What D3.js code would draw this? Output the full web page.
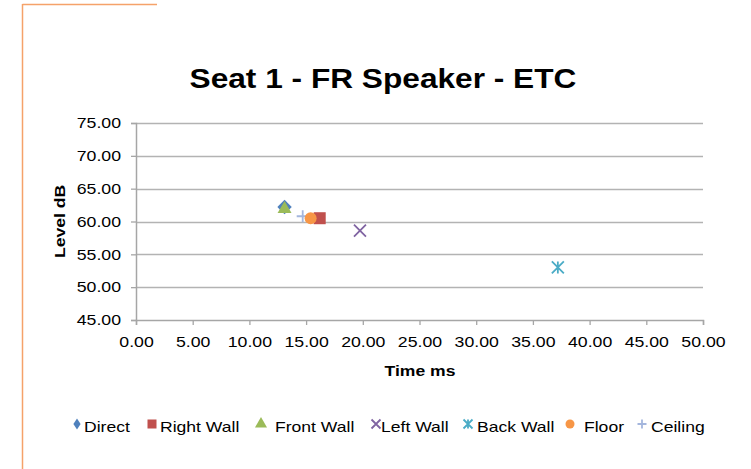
<!DOCTYPE html>
<html><head><meta charset="utf-8">
<script src="https://cdn.jsdelivr.net/npm/d3@7"></script>
<style>body{margin:0;background:#fff}svg{display:block}text{font-family:"Liberation Sans",Arial,sans-serif}</style>
</head><body>
<script>
const seriesNames = ["Direct","Right Wall","Front Wall","Left Wall","Back Wall","Floor","Ceiling"];
const timeMs = [13.1, 16.2, 13.1, 19.75, 37.2, 15.4, 14.7];
const levelDb = [62.2, 60.5, 61.9, 58.6, 53.0, 60.5, 60.8];
const colors = ["#4F81BD","#C0504D","#9BBB59","#8064A2","#4BACC6","#F79646","#A4B6DD"];
const symbols = ["diamond","square","triangle","x","star","circle","plus"];
const xTicks = [0,5,10,15,20,25,30,35,40,45,50];
const yTicks = [45,50,55,60,65,70,75];
const legendMarkX = [77,152,261,376,468,570,642];
const legendTextX = [84,160,275,381,477,584,651];

const W=751,H=469;
const svg=d3.select("body").append("svg").attr("width",W).attr("height",H);
svg.append("line").attr("x1",22.5).attr("x2",157).attr("y1",4.5).attr("y2",4.5).attr("stroke","#F5A26A").attr("stroke-width",1.5);
svg.append("line").attr("x1",22.5).attr("x2",22.5).attr("y1",4).attr("y2",469).attr("stroke","#F5A26A").attr("stroke-width",1.5);

const x=d3.scaleLinear().domain([0,50]).range([136,703]);
const y=d3.scaleLinear().domain([45,75]).range([320,123]);

function stretch(sel,f){sel.each(function(){const n=this.getComputedTextLength();d3.select(this).attr("textLength",n*f).attr("lengthAdjust","spacingAndGlyphs");});}

svg.append("g").selectAll("line").data(yTicks.filter(d=>d>45)).join("line")
 .attr("x1",x(0)).attr("x2",x(50)).attr("y1",d=>Math.round(y(d))+0.5).attr("y2",d=>Math.round(y(d))+0.5)
 .attr("stroke","#B3B3B3").attr("stroke-width",1.4);

const ya=svg.append("g").attr("transform",`translate(${x(0)},0)`)
 .call(d3.axisLeft(y).tickValues(yTicks).tickFormat(d3.format(".2f")).tickSize(5).tickPadding(10));
const xa=svg.append("g").attr("transform",`translate(0,${y(45)})`)
 .call(d3.axisBottom(x).tickValues(xTicks).tickFormat(d3.format(".2f")).tickSize(5).tickPadding(11));
[ya,xa].forEach(a=>{a.select(".domain").attr("stroke","#A6A6A6").attr("stroke-width",1.5);
 a.selectAll(".tick line").attr("stroke","#A6A6A6").attr("stroke-width",1.3);
 a.selectAll("text").attr("font-size",15).attr("fill","#000").attr("font-family","Liberation Sans, Arial");
 stretch(a.selectAll("text"),1.18);});

const title=svg.append("text").attr("x",383).attr("y",88).attr("text-anchor","middle").attr("font-size",28).attr("font-weight","bold").text("Seat 1 - FR Speaker - ETC");
stretch(title,1.13);
const yl=svg.append("text").attr("transform",`translate(65,${(y(45)+y(75))/2}) rotate(-90)`).attr("text-anchor","middle").attr("font-size",15).attr("font-weight","bold").text("Level dB");
stretch(yl,1.17);
const xl=svg.append("text").attr("x",420).attr("y",376).attr("text-anchor","middle").attr("font-size",15).attr("font-weight","bold").text("Time ms");
stretch(xl,1.17);

function marker(g,sym,c,s,legend){
 if(sym==="diamond"){const w=legend?s*0.4:s*0.6,h=legend?s*0.6:s*0.6;g.append("path").attr("d",`M0,${-h}L${w},0L0,${h}L${-w},0Z`).attr("fill",c);}
 else if(sym==="square") g.append("rect").attr("x",-s/2).attr("y",-s/2).attr("width",s).attr("height",s).attr("fill",c);
 else if(sym==="triangle") g.append("path").attr("d",d3.symbol(d3.symbolTriangle,s*7)()).attr("fill",c);
 else if(sym==="circle") g.append("circle").attr("r",s/2).attr("fill",c);
 else if(sym==="x"){const r=s/2;g.append("path").attr("d",`M${-r},${-r}L${r},${r}M${-r},${r}L${r},${-r}`).attr("stroke",c).attr("stroke-width",1.8);}
 else if(sym==="plus"){const r=s/2;g.append("path").attr("d",`M${-r},0L${r},0M0,${-r}L0,${r}`).attr("stroke",c).attr("stroke-width",1.8);}
 else if(sym==="star"){const r=s/2;g.append("path").attr("d",`M${-r},${-r}L${r},${r}M${-r},${r}L${r},${-r}M0,${-r}L0,${r}`).attr("stroke",c).attr("stroke-width",1.8);}
}
const order=[0,2,6,1,5,3,4];
order.forEach(i=>{const g=svg.append("g").attr("transform",`translate(${x(timeMs[i])},${y(levelDb[i])})`);marker(g,symbols[i],colors[i],12,false);});

seriesNames.forEach((n,i)=>{const g=svg.append("g").attr("transform",`translate(${legendMarkX[i]},424)`);
 marker(g,symbols[i],colors[i],9,true);
 const t=svg.append("text").attr("x",legendTextX[i]).attr("y",432).attr("font-size",15).attr("fill","#000").text(n);
 stretch(t,1.17);});
</script>
</body></html>
